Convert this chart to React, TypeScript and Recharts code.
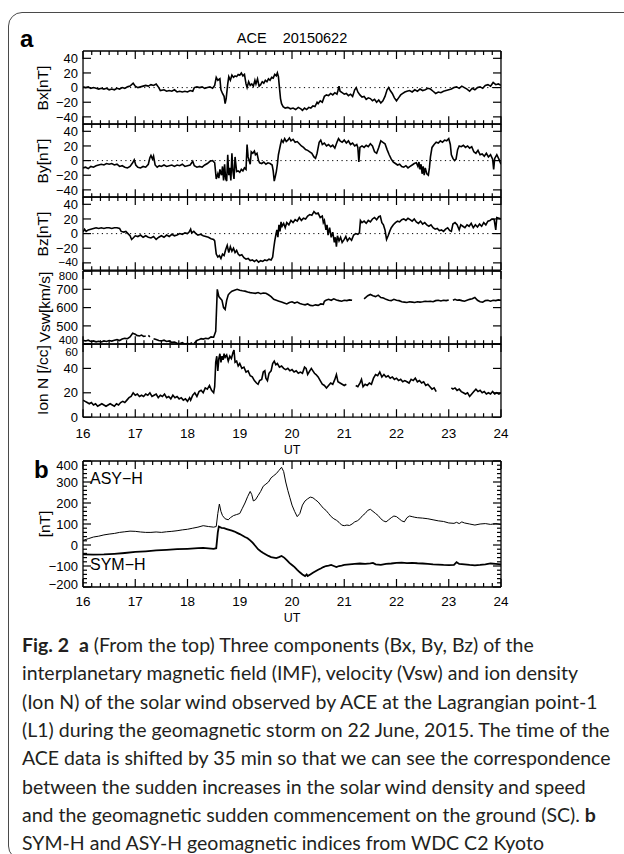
import React from 'react';
import { LineChart, Line, XAxis, YAxis, ReferenceLine } from 'recharts';

// ---------- data (UT hour, value) ----------
const bx: [number, number][] = [
  [16.00,1],[16.05,0],[16.10,1],[16.15,-1],[16.20,0],[16.25,-1],[16.30,-2],[16.35,-1],[16.40,-2],[16.45,-1],[16.50,-3],[16.55,-2],[16.60,-3],[16.65,-1],[16.70,-2],[16.75,0],[16.80,-1],[16.85,1],[16.90,2],[16.96,6],[17.00,2],[17.05,0],[17.10,1],[17.15,2],[17.20,3],[17.25,2],[17.30,4],[17.35,3],[17.40,5],[17.45,0],[17.48,-4],[17.55,-3],[17.60,-5],[17.65,-4],[17.70,-5],[17.75,-3],[17.80,-6],[17.85,-5],[17.90,-6],[17.95,-5],[18.00,-6],[18.05,-4],[18.10,-5],[18.13,0],[18.18,1],[18.23,0],[18.28,1],[18.33,-1],[18.38,0],[18.43,1],[18.48,-1],[18.52,3],[18.55,14],[18.58,10],[18.62,12],[18.64,-3],[18.67,-8],[18.70,-12],[18.72,-22],[18.74,-15],[18.77,5],[18.79,15],[18.82,10],[18.85,17],[18.88,14],[18.91,16],[18.94,15],[18.97,18],[19.00,17],[19.03,20],[19.06,16],[19.09,18],[19.12,5],[19.14,0],[19.17,8],[19.20,3],[19.23,5],[19.26,2],[19.29,10],[19.31,5],[19.34,12],[19.37,2],[19.40,4],[19.43,8],[19.46,6],[19.49,10],[19.52,8],[19.55,12],[19.58,10],[19.61,14],[19.64,13],[19.67,18],[19.70,16],[19.72,20],[19.74,15],[19.76,0],[19.78,-15],[19.80,-22],[19.83,-26],[19.87,-28],[19.92,-27],[19.97,-29],[20.02,-28],[20.07,-30],[20.12,-27],[20.17,-29],[20.20,-31],[20.24,-28],[20.28,-30],[20.32,-27],[20.36,-28],[20.40,-25],[20.44,-26],[20.48,-20],[20.50,-22],[20.54,-18],[20.58,-20],[20.62,-12],[20.66,-10],[20.70,-11],[20.74,-8],[20.78,-10],[20.82,-7],[20.86,-9],[20.88,-4],[20.90,2],[20.92,-5],[20.96,-7],[21.00,-9],[21.04,-8],[21.08,-11],[21.12,-9],[21.16,-12],[21.20,-3],[21.23,0],[21.26,-6],[21.30,-10],[21.34,-13],[21.38,-12],[21.42,-16],[21.46,-14],[21.50,-15],[21.54,-18],[21.58,-16],[21.62,-20],[21.66,-17],[21.70,-21],[21.74,-18],[21.78,-12],[21.82,-3],[21.85,0],[21.88,-4],[21.92,-8],[21.96,-14],[22.00,-18],[22.04,-14],[22.08,-10],[22.12,-8],[22.16,-6],[22.20,-5],[22.25,-4],[22.30,-6],[22.35,-3],[22.40,-5],[22.45,-2],[22.50,-4],[22.55,-3],[22.60,-1],[22.65,-2],[22.70,-5],[22.75,-8],[22.80,-6],[22.85,-7],[22.90,-5],[22.95,-4],[23.00,-3],[23.05,-2],[23.10,0],[23.15,1],[23.20,-1],[23.25,2],[23.30,0],[23.35,-2],[23.40,-5],[23.45,-1],[23.50,-3],[23.55,0],[23.60,1],[23.65,-1],[23.70,3],[23.75,4],[23.80,2],[23.85,7],[23.90,4],[23.95,5],[24.00,3],
];

const by: [number, number][] = [
  [16.00,-10],[16.05,-9],[16.10,-11],[16.15,-8],[16.20,-9],[16.25,-7],[16.30,-6],[16.35,-5],[16.40,-6],[16.45,-4],[16.50,-5],[16.55,-4],[16.60,-6],[16.65,-5],[16.70,-8],[16.75,-7],[16.80,-9],[16.85,-10],[16.90,-8],[16.95,-3],[16.98,1],[17.01,-6],[17.05,-9],[17.10,-10],[17.15,-8],[17.20,-9],[17.25,-5],[17.28,4],[17.30,7],[17.33,2],[17.35,6],[17.38,-6],[17.42,-9],[17.46,-7],[17.50,-8],[17.55,-6],[17.60,-8],[17.65,-7],[17.70,-6],[17.75,-8],[17.80,-6],[17.85,-7],[17.90,-5],[17.95,-8],[18.00,-7],[18.05,-6],[18.08,-3],[18.10,-1],[18.13,-7],[18.18,-9],[18.23,-8],[18.28,-9],[18.33,-6],[18.38,-4],[18.43,-1],[18.48,0],[18.52,-3],[18.55,-25],[18.58,-18],[18.60,-24],[18.62,-12],[18.65,-20],[18.67,-8],[18.69,-27],[18.71,-5],[18.73,-25],[18.75,-28],[18.77,8],[18.79,-20],[18.81,-10],[18.83,-27],[18.85,10],[18.87,-15],[18.89,-25],[18.91,5],[18.94,-15],[18.97,-14],[19.00,-16],[19.03,-12],[19.06,-14],[19.09,-10],[19.12,-12],[19.14,22],[19.16,5],[19.18,0],[19.20,-5],[19.22,12],[19.25,10],[19.28,13],[19.30,8],[19.33,10],[19.36,0],[19.38,-3],[19.42,-4],[19.46,-2],[19.50,-5],[19.54,-3],[19.58,-4],[19.62,-6],[19.64,-14],[19.66,-28],[19.68,-22],[19.70,-15],[19.72,-5],[19.74,8],[19.76,15],[19.78,22],[19.80,28],[19.83,25],[19.86,30],[19.89,26],[19.92,28],[19.95,31],[19.98,27],[20.02,29],[20.06,25],[20.10,26],[20.14,23],[20.18,20],[20.22,18],[20.26,15],[20.30,14],[20.34,12],[20.38,10],[20.42,5],[20.45,3],[20.48,10],[20.52,25],[20.55,28],[20.58,22],[20.62,24],[20.66,20],[20.70,22],[20.74,19],[20.78,21],[20.82,17],[20.86,25],[20.89,30],[20.92,27],[20.96,25],[21.00,28],[21.04,24],[21.08,27],[21.12,22],[21.16,24],[21.20,20],[21.24,22],[21.26,18],[21.28,-2],[21.30,18],[21.34,20],[21.38,18],[21.42,21],[21.46,19],[21.50,23],[21.54,20],[21.58,12],[21.62,10],[21.66,18],[21.70,27],[21.74,25],[21.78,23],[21.82,15],[21.86,8],[21.90,2],[21.94,-2],[21.98,-4],[22.02,-6],[22.06,-5],[22.10,-8],[22.14,-9],[22.18,-7],[22.22,-10],[22.26,-8],[22.30,-6],[22.34,-4],[22.38,-3],[22.41,-8],[22.43,-2],[22.45,-12],[22.47,-5],[22.49,-18],[22.51,-8],[22.53,-20],[22.55,-10],[22.58,-18],[22.61,-20],[22.63,-10],[22.65,5],[22.68,18],[22.72,22],[22.76,25],[22.80,24],[22.84,27],[22.88,25],[22.92,28],[22.96,27],[23.00,30],[23.03,22],[23.05,8],[23.08,3],[23.11,0],[23.14,2],[23.17,15],[23.20,20],[23.24,19],[23.28,21],[23.32,18],[23.36,20],[23.40,17],[23.44,19],[23.48,12],[23.52,10],[23.56,14],[23.60,8],[23.64,9],[23.68,6],[23.72,10],[23.76,5],[23.80,8],[23.84,2],[23.86,-12],[23.88,3],[23.92,8],[23.96,2],[24.00,-5],
];

const bz: [number, number][] = [
  [16.00,2],[16.03,6],[16.06,3],[16.10,5],[16.15,6],[16.20,7],[16.25,8],[16.30,7],[16.35,8],[16.40,7],[16.45,8],[16.50,8],[16.55,7],[16.60,8],[16.65,8],[16.70,7],[16.73,3],[16.78,2],[16.82,3],[16.86,0],[16.90,-3],[16.93,-8],[16.96,-6],[17.00,-3],[17.05,-4],[17.10,-2],[17.15,-5],[17.20,-3],[17.25,-5],[17.30,-6],[17.35,-4],[17.40,-8],[17.45,-5],[17.50,-3],[17.55,-5],[17.60,-2],[17.65,-4],[17.70,-1],[17.75,-3],[17.80,-2],[17.85,0],[17.90,-1],[17.95,1],[18.00,0],[18.03,2],[18.06,6],[18.08,1],[18.12,3],[18.16,0],[18.20,-2],[18.25,-1],[18.30,-3],[18.35,-4],[18.40,-5],[18.45,-7],[18.50,-8],[18.52,-10],[18.55,-28],[18.58,-32],[18.61,-30],[18.64,-34],[18.67,-28],[18.70,-30],[18.73,-22],[18.76,-16],[18.79,-26],[18.82,-18],[18.85,-24],[18.88,-20],[18.91,-26],[18.94,-23],[18.97,-28],[19.00,-30],[19.04,-29],[19.08,-33],[19.12,-35],[19.16,-34],[19.20,-37],[19.24,-36],[19.28,-38],[19.32,-36],[19.36,-39],[19.40,-37],[19.44,-38],[19.48,-36],[19.52,-37],[19.56,-35],[19.60,-36],[19.63,-32],[19.65,-20],[19.67,-10],[19.69,-2],[19.71,5],[19.73,-5],[19.75,12],[19.77,3],[19.79,16],[19.81,10],[19.84,14],[19.87,8],[19.90,15],[19.94,12],[19.98,18],[20.02,15],[20.06,19],[20.10,17],[20.14,22],[20.18,18],[20.22,21],[20.26,20],[20.30,24],[20.34,26],[20.38,25],[20.42,30],[20.46,27],[20.50,28],[20.54,22],[20.58,24],[20.60,15],[20.62,18],[20.65,5],[20.67,12],[20.69,-2],[20.72,8],[20.75,-5],[20.78,2],[20.81,-12],[20.83,-5],[20.85,-18],[20.87,-3],[20.90,-10],[20.93,-5],[20.96,-12],[21.00,-8],[21.03,-4],[21.06,-10],[21.10,-6],[21.14,-9],[21.18,-2],[21.22,0],[21.26,-1],[21.29,1],[21.31,18],[21.34,15],[21.38,17],[21.42,14],[21.46,18],[21.50,16],[21.54,20],[21.58,22],[21.62,19],[21.66,23],[21.69,24],[21.72,15],[21.75,12],[21.78,5],[21.81,-8],[21.84,-3],[21.87,3],[21.90,8],[21.94,12],[21.98,15],[22.02,17],[22.06,16],[22.10,19],[22.14,20],[22.18,18],[22.22,21],[22.26,19],[22.30,17],[22.34,20],[22.38,16],[22.42,14],[22.46,17],[22.50,13],[22.54,15],[22.58,12],[22.62,10],[22.66,12],[22.70,8],[22.74,6],[22.78,7],[22.82,4],[22.86,5],[22.90,3],[22.94,6],[22.98,8],[23.02,4],[23.05,3],[23.08,13],[23.12,15],[23.16,12],[23.20,5],[23.23,12],[23.27,10],[23.31,8],[23.35,12],[23.39,10],[23.43,14],[23.47,8],[23.51,12],[23.55,9],[23.59,13],[23.63,10],[23.67,15],[23.71,12],[23.75,17],[23.79,18],[23.83,20],[23.87,19],[23.90,5],[23.92,22],[23.96,21],[24.00,20],
];

const vsw: [number, number | null][] = [
  [16.00,420],[16.05,418],[16.10,422],[16.15,415],[16.20,418],[16.25,413],[16.30,416],[16.35,412],[16.40,418],[16.45,415],[16.50,420],[16.55,417],[16.60,422],[16.65,425],[16.70,420],[16.75,428],[16.80,432],[16.85,430],[16.90,440],[16.95,460],[17.00,455],[17.03,448],[17.08,445],[17.12,450],[17.16,442],[17.20,445],[17.22,null],[17.25,448],[17.28,440],[17.32,null],[17.35,430],[17.40,425],[17.45,420],[17.50,418],[17.55,422],[17.60,415],[17.65,418],[17.70,410],[17.75,412],[17.80,405],[17.85,402],[17.90,408],[17.95,400],[18.00,405],[18.05,398],[18.08,410],[18.10,null],[18.13,405],[18.18,420],[18.22,425],[18.26,430],[18.30,428],[18.35,432],[18.40,430],[18.45,440],[18.50,438],[18.54,470],[18.57,700],[18.60,660],[18.63,650],[18.66,640],[18.69,600],[18.72,590],[18.75,640],[18.78,670],[18.81,680],[18.85,690],[18.90,695],[18.95,700],[19.00,695],[19.05,692],[19.10,690],[19.15,685],[19.20,682],[19.25,680],[19.30,678],[19.35,682],[19.40,676],[19.45,680],[19.50,678],[19.55,670],[19.60,660],[19.65,645],[19.70,640],[19.75,635],[19.80,630],[19.85,625],[19.90,620],[19.95,628],[20.00,632],[20.05,625],[20.10,630],[20.15,622],[20.20,618],[20.25,615],[20.30,620],[20.35,612],[20.40,610],[20.45,615],[20.50,612],[20.55,620],[20.60,618],[20.62,635],[20.65,640],[20.70,645],[20.75,640],[20.80,648],[20.85,642],[20.90,638],[20.95,635],[21.00,640],[21.05,638],[21.10,642],[21.15,640],[21.18,null],[21.22,645],[21.26,null],[21.30,650],[21.34,null],[21.38,648],[21.45,665],[21.50,672],[21.55,665],[21.60,660],[21.65,668],[21.70,655],[21.75,652],[21.80,645],[21.85,640],[21.90,638],[21.95,645],[22.00,640],[22.05,638],[22.10,632],[22.15,630],[22.20,628],[22.25,632],[22.30,630],[22.35,628],[22.40,632],[22.45,630],[22.50,632],[22.55,635],[22.60,633],[22.65,635],[22.70,632],[22.75,638],[22.80,640],[22.85,636],[22.90,640],[22.95,638],[23.00,642],[23.04,null],[23.08,640],[23.12,645],[23.16,640],[23.20,642],[23.25,638],[23.30,635],[23.35,640],[23.40,645],[23.45,648],[23.50,655],[23.55,640],[23.60,632],[23.65,630],[23.70,638],[23.75,640],[23.80,635],[23.85,640],[23.90,638],[23.95,642],[24.00,640],
];

const ionN: [number, number | null][] = [
  [16.00,14],[16.04,13],[16.08,12],[16.12,11],[16.16,12],[16.20,10],[16.24,11],[16.28,9],[16.32,10],[16.36,11],[16.40,10],[16.44,9],[16.48,10],[16.52,11],[16.56,10],[16.60,9],[16.64,11],[16.68,10],[16.72,12],[16.76,13],[16.80,12],[16.84,14],[16.88,16],[16.92,17],[16.96,20],[17.00,18],[17.04,19],[17.08,17],[17.12,18],[17.16,17],[17.20,19],[17.24,18],[17.28,20],[17.32,17],[17.36,18],[17.40,19],[17.44,16],[17.48,18],[17.52,17],[17.56,19],[17.60,16],[17.64,17],[17.68,15],[17.72,18],[17.76,16],[17.80,17],[17.84,15],[17.88,16],[17.92,14],[17.96,15],[18.00,13],[18.04,16],[18.06,14],[18.10,18],[18.14,20],[18.18,17],[18.22,21],[18.26,22],[18.30,20],[18.34,24],[18.38,23],[18.42,26],[18.46,22],[18.50,20],[18.52,25],[18.54,45],[18.56,50],[18.58,38],[18.60,48],[18.62,52],[18.64,45],[18.66,50],[18.68,47],[18.70,52],[18.72,49],[18.75,51],[18.78,46],[18.81,50],[18.84,48],[18.87,53],[18.89,55],[18.91,45],[18.94,46],[18.97,42],[19.00,44],[19.04,40],[19.08,41],[19.12,37],[19.16,38],[19.20,34],[19.24,33],[19.28,30],[19.32,28],[19.35,27],[19.38,30],[19.42,31],[19.45,37],[19.48,38],[19.50,32],[19.53,30],[19.56,36],[19.60,38],[19.63,44],[19.66,46],[19.69,43],[19.72,44],[19.76,41],[19.80,42],[19.84,40],[19.88,39],[19.92,40],[19.96,38],[20.00,39],[20.04,37],[20.08,38],[20.12,36],[20.16,37],[20.20,36],[20.24,41],[20.27,40],[20.30,35],[20.34,38],[20.37,40],[20.40,38],[20.43,36],[20.46,35],[20.50,33],[20.54,30],[20.58,27],[20.62,26],[20.66,24],[20.70,26],[20.74,28],[20.78,27],[20.82,31],[20.85,35],[20.88,29],[20.92,28],[20.96,27],[21.00,26],[21.04,27],[21.06,null],[21.10,26],[21.12,null],[21.16,27],[21.18,null],[21.22,26],[21.26,25],[21.30,28],[21.33,31],[21.36,25],[21.40,27],[21.44,26],[21.48,28],[21.52,27],[21.56,32],[21.60,35],[21.64,34],[21.68,37],[21.72,33],[21.76,35],[21.80,33],[21.84,34],[21.88,32],[21.92,33],[21.96,31],[22.00,32],[22.04,30],[22.08,31],[22.12,29],[22.16,30],[22.20,29],[22.24,28],[22.28,31],[22.32,30],[22.36,32],[22.40,29],[22.44,30],[22.48,28],[22.52,29],[22.56,26],[22.60,27],[22.64,25],[22.68,23],[22.72,24],[22.76,21],[22.78,null],[22.80,22],[22.83,null],[23.05,24],[23.08,23],[23.12,24],[23.16,22],[23.20,23],[23.24,21],[23.28,20],[23.32,19],[23.36,20],[23.40,17],[23.44,19],[23.48,21],[23.52,23],[23.56,21],[23.60,22],[23.64,20],[23.68,21],[23.72,19],[23.76,20],[23.80,19],[23.84,21],[23.88,19],[23.92,20],[23.96,19],[24.00,20],
];

const asyH: [number, number][] = [
  [16.00,22],[16.10,30],[16.20,38],[16.30,42],[16.40,48],[16.50,52],[16.60,55],[16.70,60],[16.80,63],[16.90,66],[17.00,65],[17.10,62],[17.20,60],[17.30,60],[17.40,62],[17.50,60],[17.60,63],[17.70,65],[17.80,68],[17.90,72],[18.00,75],[18.10,80],[18.20,85],[18.30,92],[18.40,88],[18.50,85],[18.55,88],[18.58,150],[18.61,195],[18.64,160],[18.67,140],[18.72,125],[18.78,120],[18.82,130],[18.88,140],[18.94,145],[19.00,150],[19.05,175],[19.10,200],[19.15,230],[19.20,255],[19.23,240],[19.26,210],[19.30,215],[19.35,235],[19.40,255],[19.45,280],[19.50,290],[19.55,300],[19.60,320],[19.65,330],[19.70,340],[19.75,355],[19.80,370],[19.84,350],[19.88,300],[19.92,260],[19.96,225],[20.00,190],[20.05,160],[20.10,135],[20.15,150],[20.20,190],[20.25,210],[20.30,220],[20.35,228],[20.40,225],[20.45,215],[20.50,205],[20.55,190],[20.60,175],[20.65,165],[20.70,150],[20.75,135],[20.80,125],[20.85,118],[20.90,108],[20.95,95],[21.00,92],[21.05,95],[21.10,93],[21.15,100],[21.20,110],[21.25,115],[21.30,125],[21.35,140],[21.40,150],[21.45,165],[21.50,170],[21.55,160],[21.60,150],[21.65,140],[21.70,125],[21.75,115],[21.80,110],[21.85,120],[21.90,130],[21.95,138],[22.00,135],[22.05,125],[22.10,115],[22.15,110],[22.20,130],[22.25,138],[22.30,135],[22.35,132],[22.40,130],[22.50,128],[22.60,125],[22.70,120],[22.80,115],[22.90,112],[23.00,105],[23.10,103],[23.15,108],[23.20,102],[23.25,110],[23.30,105],[23.40,100],[23.50,95],[23.60,100],[23.70,102],[23.80,98],[23.90,102],[24.00,97],
];

const symH: [number, number][] = [
  [16.00,-45],[16.20,-46],[16.40,-45],[16.60,-42],[16.80,-38],[17.00,-33],[17.20,-30],[17.40,-26],[17.60,-23],[17.80,-20],[18.00,-18],[18.20,-15],[18.30,-14],[18.40,-16],[18.50,-18],[18.55,-15],[18.58,60],[18.60,88],[18.65,82],[18.70,80],[18.75,76],[18.80,72],[18.85,68],[18.90,64],[18.95,58],[19.00,52],[19.05,45],[19.10,38],[19.15,32],[19.20,22],[19.25,10],[19.30,-5],[19.35,-20],[19.40,-30],[19.45,-38],[19.50,-45],[19.55,-52],[19.60,-58],[19.65,-60],[19.70,-62],[19.75,-58],[19.80,-52],[19.85,-60],[19.90,-72],[19.95,-85],[20.00,-95],[20.05,-105],[20.10,-118],[20.15,-130],[20.20,-140],[20.25,-148],[20.28,-140],[20.30,-148],[20.35,-140],[20.40,-132],[20.45,-125],[20.50,-118],[20.55,-112],[20.60,-105],[20.65,-100],[20.70,-98],[20.75,-95],[20.80,-100],[20.85,-105],[20.90,-100],[20.95,-98],[21.00,-95],[21.10,-92],[21.20,-90],[21.30,-88],[21.40,-90],[21.50,-88],[21.55,-85],[21.60,-92],[21.70,-95],[21.80,-90],[21.90,-88],[22.00,-85],[22.10,-84],[22.20,-86],[22.30,-85],[22.40,-87],[22.50,-88],[22.60,-90],[22.70,-92],[22.80,-93],[22.90,-95],[23.00,-96],[23.10,-95],[23.15,-82],[23.20,-90],[23.30,-92],[23.40,-95],[23.50,-97],[23.60,-95],[23.70,-92],[23.80,-88],[23.90,-90],[24.00,-92],
];

const hourTicks = [16, 17, 18, 19, 20, 21, 22, 23, 24];
const bTicks = [-40, -20, 0, 20, 40];
const vswTicks = [400, 500, 600, 700, 800];
const ionTicks = [0, 20, 40, 60];
const symTicks = [-200, -100, 0, 100, 200, 300, 400];
const symMinor = [-180,-160,-140,-120,-80,-60,-40,-20,20,40,60,80,120,140,160,180,220,240,260,280,320,340,360,380];

const captionLines = [
  'interplanetary magnetic field (IMF), velocity (Vsw) and ion density',
  '(Ion N) of the solar wind observed by ACE at the Lagrangian point-1',
  '(L1) during the geomagnetic storm on 22 June, 2015. The time of the',
  'ACE data is shifted by 35 min so that we can see the correspondence',
  'between the sudden increases in the solar wind density and speed',
];

// ---------- layout ----------
const W = 624;
const PL = 83;
const PR = 501;
const A_TOP = 51;
const A_BOT = 417;
const PH = (A_BOT - A_TOP) / 5;
const B_TOP = 461;
const B_BOT = 587;
const PAD = 34;
const FONT = '"Liberation Sans", Arial, Helvetica, sans-serif';

const xMinor: number[] = [];
for (let h = 16; h < 24; h++) for (let m = 1; m < 6; m++) xMinor.push(h + m / 6);
const xAll = [...hourTicks, ...xMinor].sort((a, b) => a - b);

const toRows = (arr: [number, number | null][]) => arr.map(([t, v]) => ({ t, v }));

const fmt = (v: number) => (v < 0 ? '\u2212' + Math.abs(v) : String(v));
const isHour = (v: number) => Math.abs(v - Math.round(v)) < 1e-6;

function XTick(props: any) {
  const { x, y, payload, dir, labels, labelDy } = props;
  const v = payload.value;
  const major = isHour(v);
  const len = major ? 8 : 4;
  return (
    <g>
      <line x1={x} y1={y} x2={x} y2={y + dir * len} stroke="#000" strokeWidth={1.2} />
      {labels && major ? (
        <text x={x} y={y + labelDy} textAnchor="middle" fontSize={13.5} fontFamily={FONT} fill="#000">
          {String(Math.round(v))}
        </text>
      ) : null}
    </g>
  );
}

function YTick(props: any) {
  const { x, y, payload, dir, labels, majors, shift, small } = props;
  const v = payload.value;
  const major = majors.includes(v);
  const len = major ? 8 : 4;
  const key = String(v);
  const dy = shift && shift[key] ? shift[key] : 0;
  const fs = small && small.includes(v) ? 11.5 : 13;
  return (
    <g>
      <line x1={x} y1={y} x2={x + dir * len} y2={y} stroke="#000" strokeWidth={1.2} />
      {labels && major ? (
        <text x={x - 5} y={y + dy} dy="0.36em" textAnchor="end" fontSize={fs} fontFamily={FONT} fill="#000">
          {fmt(v)}
        </text>
      ) : null}
    </g>
  );
}

type Series = { rows: { t: number; v: number | null }[]; width: number };

function Panel(props: {
  top: number;
  height: number;
  domain: [number, number];
  majors: number[];
  minors?: number[];
  series: Series[];
  zero?: boolean;
  xLabels?: boolean;
  labelDy?: number;
  shift?: Record<string, number>;
  small?: number[];
}) {
  const { top, height, domain, majors, minors = [], series, zero, xLabels, labelDy = 20, shift, small } = props;
  const yAll = [...majors, ...minors].sort((a, b) => a - b);
  const axisLine = { stroke: '#000', strokeWidth: 1.3 };
  return (
    <div style={{ position: 'absolute', left: 0, top: top - PAD }}>
      <LineChart width={W} height={height + 2 * PAD}
        margin={{ top: PAD - 1, bottom: PAD - 1, left: PL - 1, right: W - PR - 1 }}>
        <XAxis xAxisId="b" type="number" dataKey="t" domain={[16, 24]} ticks={xAll} interval={0} height={1}
          tickSize={0} tickMargin={0} tickLine={false} axisLine={axisLine} allowDataOverflow
          tick={<XTick dir={-1} labels={!!xLabels} labelDy={labelDy} />} />
        <XAxis xAxisId="t" orientation="top" type="number" dataKey="t" domain={[16, 24]} ticks={xAll} interval={0} height={1}
          tickSize={0} tickMargin={0} tickLine={false} axisLine={axisLine} allowDataOverflow
          tick={<XTick dir={1} labels={false} labelDy={0} />} />
        <YAxis yAxisId="l" type="number" domain={domain} ticks={yAll} interval={0} width={1}
          tickSize={0} tickMargin={0} tickLine={false} axisLine={axisLine} allowDataOverflow
          tick={<YTick dir={1} labels majors={majors} shift={shift} small={small} />} />
        <YAxis yAxisId="r" orientation="right" type="number" domain={domain} ticks={yAll} interval={0} width={1}
          tickSize={0} tickMargin={0} tickLine={false} axisLine={axisLine} allowDataOverflow
          tick={<YTick dir={-1} labels={false} majors={majors} />} />
        {zero ? (
          <ReferenceLine xAxisId="b" yAxisId="l" y={0} stroke="#000" strokeWidth={1} strokeDasharray="1.2 3.5" />
        ) : null}
        {series.map((s, i) => (
          <Line key={i} xAxisId="b" yAxisId="l" data={s.rows} dataKey="v" type="linear" dot={false}
            stroke="#000" strokeWidth={s.width} isAnimationActive={false} connectNulls={false} />
        ))}
        <Line xAxisId="t" yAxisId="r" data={series[0].rows} dataKey="v" dot={false} stroke="none"
          isAnimationActive={false} legendType="none" />
      </LineChart>
    </div>
  );
}

const abs = (x: number, y: number, extra: React.CSSProperties = {}): React.CSSProperties => ({
  position: 'absolute', left: x, top: y, whiteSpace: 'nowrap', fontFamily: FONT, color: '#000', ...extra,
});

function YTitle({ text, cy, cx = 43 }: { text: string; cy: number; cx?: number }) {
  return (
    <div style={abs(cx, cy, { transform: 'translate(-50%, -50%) rotate(-90deg)', fontSize: 15.5, lineHeight: '16px' })}>
      {text}
    </div>
  );
}

export default function App() {
  const capFont = 'Lato, "Open Sans", sans-serif';
  const capStyle = (i: number): React.CSSProperties => ({
    position: 'absolute', left: 22, top: 631 + i * 28.3, fontFamily: capFont, fontSize: 19.5,
    lineHeight: '28px', whiteSpace: 'nowrap', color: '#231f20',
  });
  return (
    <div style={{ position: 'absolute', left: 0, top: 0, width: W, height: 854, overflow: 'hidden', background: '#fff' }}>
      <div style={{ position: 'absolute', left: 8, top: 12, width: 700, height: 846, border: '1px solid #4a4a4a', borderRadius: 14 }} />

      <Panel top={A_TOP} height={PH} domain={[-50, 50]} majors={bTicks} series={[{ rows: toRows(bx), width: 1.6 }]} zero />
      <Panel top={A_TOP + PH} height={PH} domain={[-50, 50]} majors={bTicks} series={[{ rows: toRows(by), width: 1.6 }]} zero />
      <Panel top={A_TOP + 2 * PH} height={PH} domain={[-50, 50]} majors={bTicks} series={[{ rows: toRows(bz), width: 1.6 }]} zero
        shift={{ '-40': -1 }} small={[-40]} />
      <Panel top={A_TOP + 3 * PH} height={PH} domain={[400, 800]} majors={vswTicks} series={[{ rows: toRows(vsw), width: 1.6 }]}
        shift={{ '800': 4.5, '400': -4.7 }} small={[800, 400]} />
      <Panel top={A_TOP + 4 * PH} height={PH} domain={[0, 60]} majors={ionTicks} series={[{ rows: toRows(ionN), width: 1.6 }]}
        xLabels labelDy={21} shift={{ '60': 8.1 }} small={[60]} />

      <Panel top={B_TOP} height={B_BOT - B_TOP} domain={[-200, 400]} majors={symTicks} minors={symMinor}
        series={[{ rows: toRows(asyH), width: 1 }, { rows: toRows(symH), width: 1.8 }]} xLabels labelDy={19}
        shift={{ '400': 4, '-200': -3 }} />

      <div style={abs(20, 26, { fontSize: 24, fontWeight: 'bold', lineHeight: '26px' })}>a</div>
      <div style={abs(292, 38, { transform: 'translate(-50%, -50%)', fontSize: 14.5, lineHeight: '16px' })}>ACE&nbsp;&nbsp;&nbsp;&nbsp;20150622</div>
      <YTitle text="Bx[nT]" cy={A_TOP + PH * 0.5} />
      <YTitle text="By[nT]" cy={A_TOP + PH * 1.5} />
      <YTitle text="Bz[nT]" cy={A_TOP + PH * 2.5} />
      <YTitle text="Vsw[km/s]" cy={A_TOP + PH * 3.5} cx={45} />
      <YTitle text="Ion N [/cc]" cy={A_TOP + PH * 4.5} />
      <div style={abs(292, 450, { transform: 'translate(-50%, -50%)', fontSize: 12.5, lineHeight: '14px' })}>UT</div>

      <div style={abs(34, 457, { fontSize: 24, fontWeight: 'bold', lineHeight: '26px' })}>b</div>
      <YTitle text="[nT]" cy={(B_TOP + B_BOT) / 2} cx={45} />
      <div style={abs(90, 470, { fontSize: 16, lineHeight: '18px' })}>ASY{'\u2212'}H</div>
      <div style={abs(90, 556, { fontSize: 16, lineHeight: '18px' })}>SYM{'\u2212'}H</div>
      <div style={abs(292, 618, { transform: 'translate(-50%, -50%)', fontSize: 12.5, lineHeight: '14px' })}>UT</div>

      <div style={capStyle(0)}><b>Fig. 2</b>&nbsp; <b>a</b> (From the top) Three components (Bx, By, Bz) of the</div>
      {captionLines.map((l, i) => <div key={i} style={capStyle(i + 1)}>{l}</div>)}
      <div style={capStyle(6)}>and the geomagnetic sudden commencement on the ground (SC). <b>b</b></div>
      <div style={capStyle(7)}>SYM-H and ASY-H geomagnetic indices from WDC C2 Kyoto</div>
    </div>
  );
}
